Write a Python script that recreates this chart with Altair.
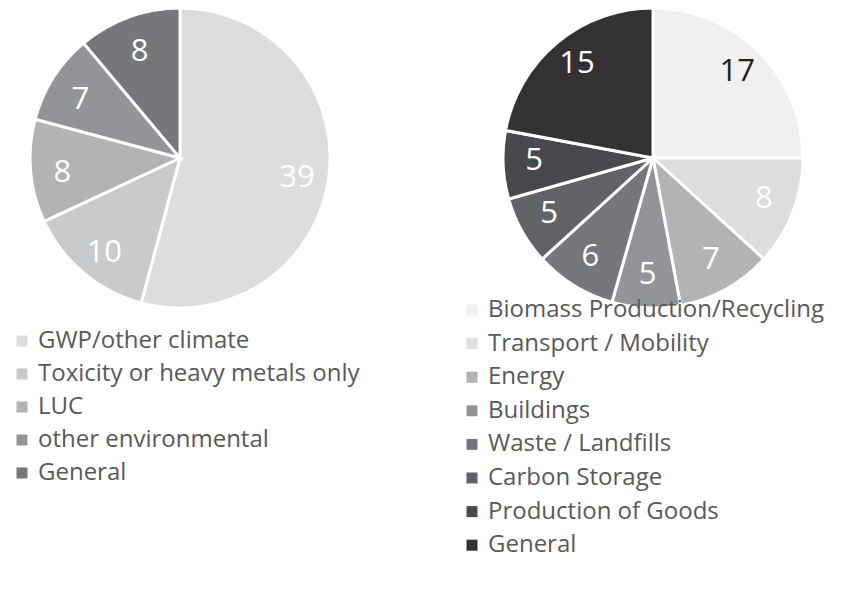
import altair as alt
import pandas as pd

left_cats = ["GWP/other climate", "Toxicity or heavy metals only", "LUC", "other environmental", "General"]
left_vals = [39, 10, 8, 7, 8]
left_colors = ["#dcdddf", "#c9cacc", "#b2b3b5", "#939497", "#76777a"]

right_cats = ["Biomass Production/Recycling", "Transport / Mobility", "Energy", "Buildings",
              "Waste / Landfills", "Carbon Storage", "Production of Goods", "General"]
right_vals = [17, 8, 7, 5, 6, 5, 5, 15]
right_colors = ["#f0f0f0", "#dcdddf", "#b2b3b5", "#939497", "#76777a", "#626366", "#48494c", "#333132"]

left_df = pd.DataFrame({"cat": left_cats, "value": left_vals, "idx": range(len(left_cats))})
right_df = pd.DataFrame({"cat2": right_cats, "value": right_vals, "idx": range(len(right_cats))})

FONT = "Open Sans"
LCX, LCY = 172, 150
RCX, RCY = 645, 150
R = 150


def legend(x, y, row_pad):
    return alt.Legend(orient="none", legendX=x, legendY=y, title=None, symbolType="square",
                      symbolSize=121, symbolStrokeWidth=0, labelFontSize=24, labelFont=FONT,
                      labelColor="#595959", rowPadding=row_pad, labelOffset=4, padding=0,
                      labelLimit=500)


left_arc = alt.Chart(left_df).mark_arc(outerRadius=R, stroke="white", strokeWidth=3).encode(
    theta=alt.Theta("value:Q", stack=True),
    order=alt.Order("idx:Q"),
    color=alt.Color("cat:N", scale=alt.Scale(domain=left_cats, range=left_colors), sort=None,
                    legend=legend(2, 321, 9)),
    x=alt.value(LCX), y=alt.value(LCY),
)
left_text = alt.Chart(left_df).mark_text(radius=118, dy=5, fontSize=31, font=FONT, color="white").encode(
    theta=alt.Theta("value:Q", stack=True),
    order=alt.Order("idx:Q"),
    text="value:Q",
    x=alt.value(LCX), y=alt.value(LCY),
)

right_arc = alt.Chart(right_df).mark_arc(outerRadius=R, stroke="white", strokeWidth=3).encode(
    theta=alt.Theta("value:Q", stack=True),
    order=alt.Order("idx:Q"),
    color=alt.Color("cat2:N", scale=alt.Scale(domain=right_cats, range=right_colors), sort=None,
                    legend=legend(452, 290, 9.6)),
    x=alt.value(RCX), y=alt.value(RCY),
)
right_text = alt.Chart(right_df).mark_text(radius=119, dy=-2, fontSize=31, font=FONT).encode(
    theta=alt.Theta("value:Q", stack=True),
    order=alt.Order("idx:Q"),
    text="value:Q",
    color=alt.condition(alt.datum.idx == 0, alt.value("#231f20"), alt.value("white")),
    x=alt.value(RCX), y=alt.value(RCY),
)

chart = alt.layer(left_arc, left_text, right_arc, right_text).resolve_scale(
    theta="independent", color="independent"
).properties(
    width=840, height=589, autosize=alt.AutoSizeParams(type="none"), padding=0,
    background="white"
).configure_view(stroke=None)

chart.save("out.html", embed_options={"renderer": "svg", "actions": False})
